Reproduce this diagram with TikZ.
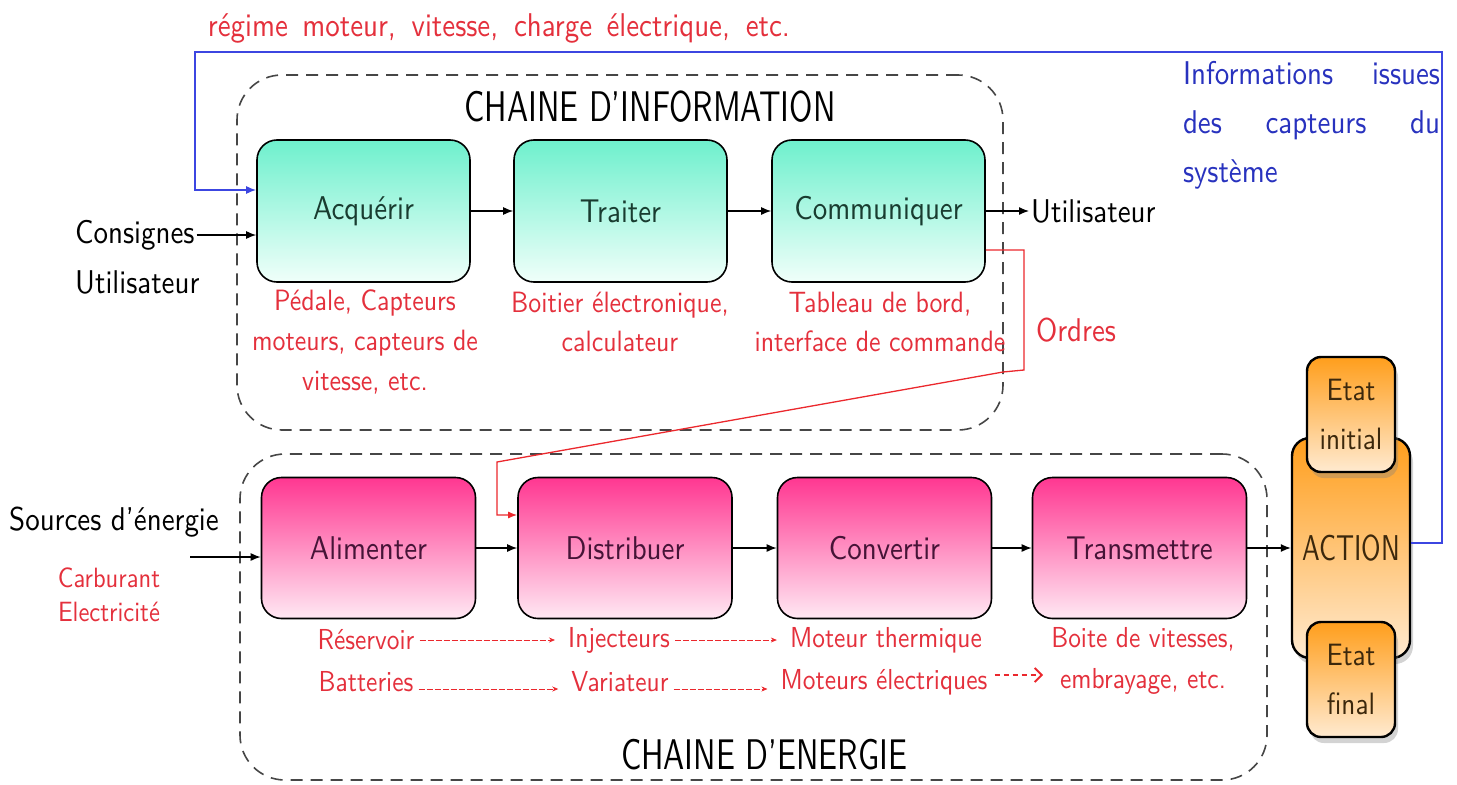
\documentclass[tikz,border=0pt]{standalone}
\usepackage{fontspec}
\setmainfont{lmsans10-regular.otf}[FakeStretch=0.88]
\newfontfamily\capsfont{lmsans10-regular.otf}[FakeStretch=0.74]
\usetikzlibrary{shadows,arrows.meta}
\definecolor{redtxt}{RGB}{228,48,60}
\definecolor{redln}{RGB}{235,40,45}
\definecolor{bluel}{RGB}{60,70,225}
\definecolor{bluetxt}{RGB}{40,50,190}
\definecolor{greentop}{RGB}{110,240,205}
\definecolor{greenbot}{RGB}{240,255,250}
\definecolor{pinktop}{RGB}{255,55,145}
\definecolor{pinkbot}{RGB}{255,232,243}
\definecolor{orangetop}{RGB}{255,158,28}
\definecolor{orangebot}{RGB}{255,234,208}
\definecolor{dashgray}{RGB}{70,70,70}
\definecolor{gtext}{RGB}{25,60,48}
\definecolor{ptext}{RGB}{70,20,55}
\definecolor{otext}{RGB}{60,40,12}
\newcommand{\fsz}[2]{\fontsize{#1}{#2}\selectfont}
\begin{document}
\begin{tikzpicture}[x=1bp,y=-1bp,
  container/.style={draw=dashgray, line width=1.6bp, dash pattern=on 12bp off 8bp, rounded corners=45bp},
  ibox/.style={draw=black, line width=1.6bp, rounded corners=20bp, minimum width=213bp, minimum height=142bp, top color=greentop, bottom color=greenbot, font=\fsz{33}{40}, text=gtext},
  ebox/.style={draw=black, line width=1.6bp, rounded corners=20bp, minimum width=214bp, minimum height=141bp, top color=pinktop, bottom color=pinkbot, font=\fsz{33}{40}, text=ptext},
  abox/.style={draw=black, line width=2.4bp, rounded corners=18bp, top color=orangetop, bottom color=orangebot, text=otext, drop shadow={shadow xshift=3bp, shadow yshift=-6bp, opacity=0.35}},
  sbox/.style={abox, rounded corners=14bp, minimum width=88bp, minimum height=115bp, align=center, font=\fsz{31}{50}},
  title/.style={font=\capsfont\fsz{43}{50}, text=black},
  blab/.style={font=\fsz{33}{47}, text=black, inner sep=2bp},
  rlab/.style={font=\fsz{29.5}{40}, text=redtxt, align=center, inner sep=2bp},
  rrow/.style={font=\fsz{29}{40}, text=redtxt, inner sep=5bp},
  arr/.style={-{Latex[length=10bp,width=8bp]}, line width=1.3bp, black},
  rdash/.style={redln, line width=0.8bp, dash pattern=on 6bp off 2bp, -{Stealth[length=6bp,width=5bp]}, shorten >=8bp},
  rthick/.style={redln, line width=2bp, dash pattern=on 5bp off 4bp, -{Straight Barb[length=7bp,width=14bp,line width=2bp]}}
]
\useasboundingbox (0,0) rectangle (1457,784);

% containers
\node[container, minimum width=766bp, minimum height=355bp] (infoc) at (620,252.5) {};
\node[container, minimum width=1027bp, minimum height=326bp] (enec) at (753.5,617) {};
\node[title] (tinfo) at (650,107) {CHAINE D’INFORMATION};
\node[title] (tene) at (764,755) {CHAINE D’ENERGIE};

% top red text and blue text
\node[font=\fsz{33}{40}, text=redtxt, inner sep=0] (regime) at (499,28) {\makebox[582bp][s]{régime moteur, vitesse, charge électrique, etc.}};
\node[font=\fsz{33}{49}, text=bluetxt, align=left, inner sep=0] (infos) at (1311.5,125) {\makebox[257bp][s]{Informations issues}\\\makebox[257bp][s]{des capteurs du}\\système};

% information chain
\node[ibox] (acq) at (363.5,211) {Acquérir};
\node[ibox] (tra) at (620.5,211) {Traiter};
\node[ibox] (com) at (878.5,211) {Communiquer};

% energy chain
\node[ebox] (ali) at (368.5,548) {Alimenter};
\node[ebox] (dis) at (625,548) {Distribuer};
\node[ebox] (con) at (884.5,548) {Convertir};
\node[ebox] (trm) at (1139.5,548) {Transmettre};

% action
\node[abox, minimum width=118bp, minimum height=220bp, font=\capsfont\fsz{36}{40}] (act) at (1351,548) {ACTION};
\node[sbox] (ei) at (1351,414.5) {Etat\\initial};
\node[sbox] (ef) at (1351,679.5) {Etat\\final};

% black labels
\node[blab, anchor=west] (cons) at (73,235) {Consignes};
\node[blab, anchor=west] (usr1) at (73,282) {Utilisateur};
\node[blab, anchor=west] (usr2) at (1029,211) {Utilisateur};
\node[blab, anchor=west] (src) at (7,522) {Sources d’énergie};
\node[rlab, font=\fsz{28}{34}] (carb) at (109,595) {Carburant\\Electricité};

% red labels under information boxes
\node[rlab] (lacq) at (365,342) {Pédale, Capteurs\\moteurs, capteurs de\\vitesse, etc.};
\node[rlab] (ltra) at (620,322) {Boitier électronique,\\calculateur};
\node[rlab] (lcom) at (880,322) {Tableau de bord,\\interface de commande};
\node[rlab, font=\fsz{33}{40}] (ord) at (1076,330) {Ordres};

% red rows under energy boxes
\node[rrow] (res) at (366,640) {Réservoir};
\node[rrow] (inj) at (619,640) {Injecteurs};
\node[rrow] (mth) at (886,640) {Moteur thermique};
\node[rrow] (bat) at (366,682) {Batteries};
\node[rrow] (var) at (620,682) {Variateur};
\node[rrow] (mel) at (884,682) {Moteurs électriques};
\node[rlab, font=\fsz{29}{42}] (bv) at (1143,661) {Boite de vitesses,\\embrayage, etc.};

% connectors
\draw[arr] (acq) -- (tra);
\draw[arr] (tra) -- (com);
\draw[arr] (com.east) -- (usr2.west);
\draw[arr] (cons.east) -- (cons.east -| acq.west);
\draw[arr] (ali) -- (dis);
\draw[arr] (dis) -- (con);
\draw[arr] (con) -- (trm);
\draw[arr] (trm) -- (act);
\coordinate (srcin) at (190,557);
\draw[arr] (srcin) -- (srcin -| ali.west);

% blue feedback
\coordinate (bR) at (1442,52);
\coordinate (bL) at (195,52);
\draw[bluel, line width=1.5bp, -{Latex[length=10bp,width=8bp]}] ([yshift=5bp]act.east) -| (bR) -- (bL) |- ([yshift=21bp]acq.west);

% red orders
\coordinate (o1) at (1024,250);
\coordinate (o2) at (1024,370);
\coordinate (o3) at (1003,372);
\coordinate (o4) at (497,462);
\draw[redln, line width=1.3bp, -{Latex[length=9bp,width=7bp]}] ([yshift=-39bp]com.east) -- (o1) -- (o2) -- (o3) -- (o4) |- ([yshift=33bp]dis.west);

% red row arrows
\draw[rdash] (res.east) -- (inj.west);
\draw[rdash] (inj.east) -- (mth.west);
\draw[rdash] ([yshift=-7bp]bat.east) -- ([yshift=-7bp]var.west);
\draw[rdash] ([yshift=-7bp]var.east) -- ([yshift=-7bp]mel.west);
\draw[rthick, shorten <=2bp, shorten >=6bp] ([yshift=7bp]mel.east) -- ([yshift=7bp]mel.east -| bv.west);
\end{tikzpicture}
\end{document}
